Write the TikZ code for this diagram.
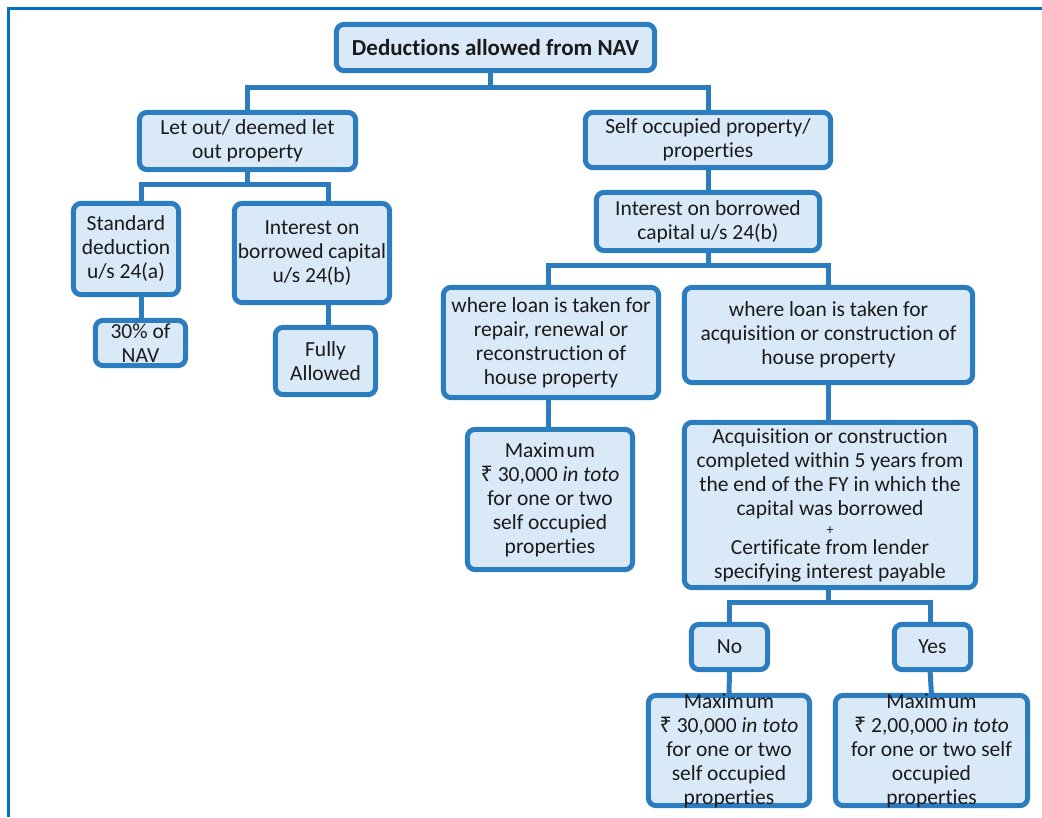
\documentclass[tikz,border=0pt]{standalone}
\usepackage{fontspec}
\setmainfont{Carlito}[Ligatures={NoCommon}]
\newfontfamily\rupeefont{Noto Sans}
\newcommand{\rs}{{\rupeefont ₹}}
\begin{document}
\begin{tikzpicture}[x=1pt,y=-1pt,
  box/.style={draw=boxblue, fill=boxfill, line width=5pt, rounded corners=8pt,
              inner sep=0pt},
  txt/.style={align=center, text=textgray, inner sep=0pt,
              font=\fontsize{21.5}{24}\selectfont},
  conn/.style={draw=boxblue, line width=5pt, line cap=rect}]
\definecolor{boxblue}{HTML}{2C7DC0}
\definecolor{boxfill}{HTML}{DAE9F7}
\definecolor{frameblue}{HTML}{0070C0}
\definecolor{textgray}{HTML}{1A1A1A}

\useasboundingbox (0,0) rectangle (1042,817);

% page frame (top and left rules)
\draw[frameblue, line width=3.5pt] (8.5,817) -- (8.5,8.5) -- (1042,8.5);

% ---- box centres ----
\path
  (495.5,47.5) coordinate (p-root)
  (247.5,141)  coordinate (p-let)
  (708,140)    coordinate (p-self)
  (126,249)    coordinate (p-std)
  (312,253)    coordinate (p-intlo)
  (140.5,343)  coordinate (p-thirty)
  (325.5,361)  coordinate (p-fully)
  (708,221.5)  coordinate (p-intso)
  (551,342.5)  coordinate (p-repair)
  (828.5,335)  coordinate (p-acq)
  (550,499.5)  coordinate (p-maxa)
  (830,505)    coordinate (p-cond)
  (729.5,647)  coordinate (p-no)
  (932.5,647)  coordinate (p-yes)
  (729,750.5)  coordinate (p-maxb)
  (931.5,750.5) coordinate (p-maxc);

% box geometry; connectors are drawn first so the boxes sit on top of them
\node[minimum width=318, minimum height=46, inner sep=0pt] (root) at (p-root) {};
\node[minimum width=216, minimum height=57, inner sep=0pt] (let) at (p-let) {};
\node[minimum width=245, minimum height=55, inner sep=0pt] (self) at (p-self) {};
\node[minimum width=105, minimum height=91, inner sep=0pt] (std) at (p-std) {};
\node[minimum width=155, minimum height=99, inner sep=0pt] (intlo) at (p-intlo) {};
\node[minimum width=90, minimum height=45, inner sep=0pt] (thirty) at (p-thirty) {};
\node[minimum width=100, minimum height=67, inner sep=0pt] (fully) at (p-fully) {};
\node[minimum width=223, minimum height=58, inner sep=0pt] (intso) at (p-intso) {};
\node[minimum width=215, minimum height=110, inner sep=0pt] (repair) at (p-repair) {};
\node[minimum width=288, minimum height=95, inner sep=0pt] (acq) at (p-acq) {};
\node[minimum width=165, minimum height=140, inner sep=0pt] (maxa) at (p-maxa) {};
\node[minimum width=291, minimum height=165, inner sep=0pt] (cond) at (p-cond) {};
\node[minimum width=76, minimum height=45, inner sep=0pt] (no) at (p-no) {};
\node[minimum width=76, minimum height=45, inner sep=0pt] (yes) at (p-yes) {};
\node[minimum width=161, minimum height=110, inner sep=0pt] (maxb) at (p-maxb) {};
\node[minimum width=192, minimum height=110, inner sep=0pt] (maxc) at (p-maxc) {};

% ---- connectors ----
\draw[conn] ([xshift=-5.5pt]root.south) -- ++(0,17) -| (let.north);
\draw[conn] ([xshift=-5.5pt]root.south) -- ++(0,17) -| (self.north);
\draw[conn] (let.south) -- ++(0,15) -| ([xshift=15pt]std.north);
\draw[conn] (let.south) -- ++(0,15) -| ([xshift=16pt]intlo.north);
\draw[conn] ([xshift=15pt]std.south) -- ([xshift=0.5pt]thirty.north);
\draw[conn] ([xshift=16pt]intlo.south) -- ([xshift=2.5pt]fully.north);
\draw[conn] (self.south) -- (intso.north);
\draw[conn] (intso.south) -- ++(0,15) -| ([xshift=-3pt]repair.north);
\draw[conn] (intso.south) -- ++(0,15) -| (acq.north);
\draw[conn] ([xshift=-3pt]repair.south) -- ([xshift=-2pt]maxa.north);
\draw[conn] (acq.south) -- ([xshift=-1.5pt]cond.north);
\draw[conn] ([xshift=-2pt]cond.south) -- ++(0,15) -| (no.north);
\draw[conn] ([xshift=-2pt]cond.south) -- ++(0,15) -| ([xshift=-2.5pt]yes.north);
\draw[conn] (no.south) -- (maxb.north);
\draw[conn] ([xshift=-2.5pt]yes.south) -- (maxc.north);

% ---- box outlines ----
\foreach \n in {root,let,self,std,intlo,thirty,fully,intso,repair,acq,maxa,cond,no,yes,maxb,maxc}
  \draw[box] (\n.north west) rectangle (\n.south east);

% ---- texts ----
\node[txt, font=\fontsize{23}{26}\selectfont\bfseries] (t-root) at (p-root) {Deductions allowed from NAV};
\node[txt] (t-let) at (p-let) {Let out/ deemed let\\out property};
\node[txt] (t-self) at (p-self) {Self occupied property/\\properties};
\node[txt] (t-std) at (p-std) {Standard\\deduction\\u/s 24(a)};
\node[txt] (t-intlo) at (p-intlo) {Interest on\\borrowed capital\\u/s 24(b)};
\node[txt] (t-thirty) at (p-thirty) {30\% of\\NAV};
\node[txt] (t-fully) at (p-fully) {Fully\\Allowed};
\node[txt] (t-intso) at (p-intso) {Interest on borrowed\\capital u/s 24(b)};
\node[txt] (t-repair) at (p-repair) {where loan is taken for\\repair, renewal or\\reconstruction of\\house property};
\node[txt] (t-acq) at (p-acq) {where loan is taken for\\acquisition or construction of\\house property};
\node[txt] (t-maxa) at (p-maxa) {Maxim\kern2pt um\\\rs\ 30,000 \textit{in toto}\\for one or two\\self occupied\\properties};
\node[txt] (t-cond) at (p-cond) {Acquisition or construction\\completed within 5 years from\\the end of the FY in which the\\capital was borrowed\\[-5pt]{\fontsize{14}{14}\selectfont +}\\[-4pt]Certificate from lender\\specifying interest payable};
\node[txt] (t-no) at (p-no) {No};
\node[txt] (t-yes) at (p-yes) {Yes};
\node[txt] (t-maxb) at (p-maxb) {Maxim\kern2pt um\\\rs\ 30,000 \textit{in toto}\\for one or two\\self occupied\\properties};
\node[txt] (t-maxc) at (p-maxc) {Maxim\kern2pt um\\\rs\ 2,00,000 \textit{in toto}\\for one or two self\\occupied\\properties};
\end{tikzpicture}
\end{document}
